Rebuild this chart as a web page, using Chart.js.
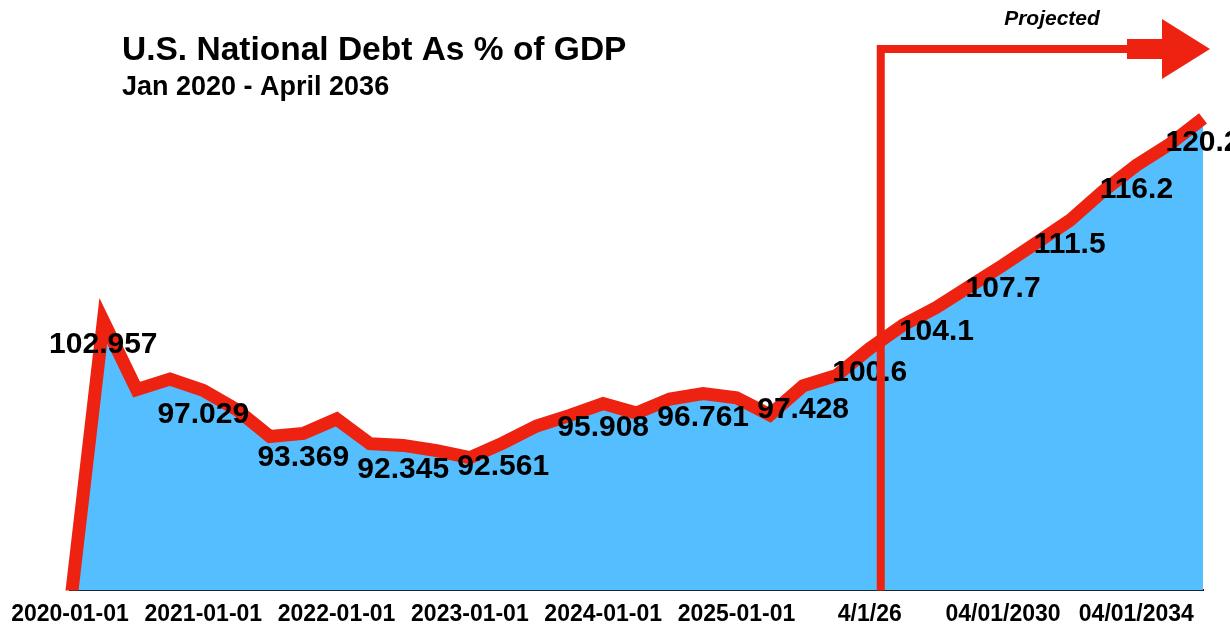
<!DOCTYPE html>
<html>
<head>
<meta charset="utf-8">
<script src="https://cdn.jsdelivr.net/npm/chart.js@4.4.1/dist/chart.umd.min.js"></script>
<style>
  html, body { margin: 0; padding: 0; background: #fff; }
  #wrap { width: 1230px; height: 630px; }
</style>
</head>
<body>
<div id="wrap"><canvas id="debtChart" width="1230" height="630"></canvas></div>
<script>
// quarterly history, then yearly projection
const categories = [
  '2020-01-01', '2020-04-01', '2020-07-01', '2020-10-01',
  '2021-01-01', '2021-04-01', '2021-07-01', '2021-10-01',
  '2022-01-01', '2022-04-01', '2022-07-01', '2022-10-01',
  '2023-01-01', '2023-04-01', '2023-07-01', '2023-10-01',
  '2024-01-01', '2024-04-01', '2024-07-01', '2024-10-01',
  '2025-01-01', '2025-04-01', '2025-07-01', '2025-10-01',
  '4/1/26', '04/01/2027', '04/01/2028', '04/01/2029', '04/01/2030',
  '04/01/2031', '04/01/2032', '04/01/2033', '04/01/2034', '04/01/2035', '04/01/2036'
];

const debtPct = [
  78.5, 102.957, 97.1, 98.0,
  97.029, 95.4, 93.1, 93.369,
  94.6, 92.5, 92.345, 91.9,
  91.3, 92.561, 94.0, 94.9,
  95.908, 95.1, 96.3, 96.761,
  96.4, 94.95, 97.428, 98.3,
  100.6, 102.6, 104.1, 105.9, 107.7,
  109.6, 111.5, 114.0, 116.2, 118.0, 120.2
];

// points that carry a value label
const labeledIdx = [1, 4, 7, 10, 13, 16, 19, 22, 24, 26, 28, 30, 32, 34];

const yMin = 80;
const yMax = 125;
const tickEvery = 4;
const projectionStart = 24.33; // category position of the "Projected" marker

const FONT = '"Helvetica Neue", Helvetica, Arial, "Liberation Sans", sans-serif';
const RED = '#EE2211';
const BLUE = '#55BEFE';

Chart.defaults.font.family = FONT;

const overlay = {
    id: 'overlay',
    afterDatasetsDraw(chart) {
        const ctx = chart.ctx;
        const meta = chart.getDatasetMeta(0);
        const area = chart.chartArea;
        const x = chart.scales.x;

        // value labels
        ctx.save();
        ctx.fillStyle = '#000';
        ctx.font = 'bold 30px ' + FONT;
        ctx.textAlign = 'center';
        ctx.textBaseline = 'middle';
        labeledIdx.forEach(i => {
            const pt = meta.data[i];
            ctx.fillText(String(debtPct[i]), pt.x, pt.y + 24);
        });
        ctx.restore();

        // projected marker + arrow
        const base = Math.floor(projectionStart);
        const px = x.getPixelForValue(base) +
            (projectionStart - base) * (x.getPixelForValue(base + 1) - x.getPixelForValue(base));
        const yTop = 49;
        ctx.save();
        ctx.strokeStyle = RED;
        ctx.fillStyle = RED;
        ctx.lineWidth = 8;
        ctx.lineJoin = 'miter';
        ctx.beginPath();
        ctx.moveTo(px, area.bottom);
        ctx.lineTo(px, yTop);
        ctx.lineTo(area.right - 74, yTop);
        ctx.stroke();
        ctx.fillRect(area.right - 76, yTop - 10, 36, 20);
        ctx.beginPath();
        ctx.moveTo(area.right - 41, yTop - 30);
        ctx.lineTo(area.right + 7, yTop);
        ctx.lineTo(area.right - 41, yTop + 30);
        ctx.closePath();
        ctx.fill();

        ctx.fillStyle = '#000';
        ctx.font = 'italic bold 21px ' + FONT;
        ctx.textAlign = 'center';
        ctx.textBaseline = 'middle';
        ctx.fillText('Projected', 1052, 19);
        ctx.restore();
    },
    afterDraw(chart) {
        const ctx = chart.ctx;
        ctx.save();
        ctx.fillStyle = '#000';
        ctx.textAlign = 'left';
        ctx.textBaseline = 'alphabetic';
        ctx.font = 'bold 33.5px ' + FONT;
        ctx.fillText('U.S. National Debt As % of GDP', 122, 60);
        ctx.font = 'bold 27px ' + FONT;
        ctx.fillText('Jan 2020 - April 2036', 122, 95);
        ctx.restore();
    }
};

new Chart(document.getElementById('debtChart'), {
    type: 'line',
    data: {
        labels: categories,
        datasets: [{
            data: debtPct,
            borderColor: RED,
            borderWidth: 13,
            backgroundColor: BLUE,
            fill: 'start',
            tension: 0,
            pointRadius: 0,
            borderJoinStyle: 'miter'
        }]
    },
    options: {
        responsive: false,
        animation: false,
        layout: { padding: { left: 70, right: 27, top: 62, bottom: 0 } },
        plugins: {
            legend: { display: false },
            tooltip: { enabled: false }
        },
        scales: {
            x: {
                grid: { display: false },
                border: { display: true, color: '#111', width: 2 },
                ticks: {
                    autoSkip: false,
                    maxRotation: 0,
                    padding: 2,
                    color: '#000',
                    font: { size: 23, weight: 'bold' },
                    callback: (v, i) => (i % tickEvery === 0 ? categories[i] : '')
                }
            },
            y: {
                display: false,
                min: yMin,
                max: yMax
            }
        }
    },
    plugins: [overlay]
});
</script>
</body>
</html>
